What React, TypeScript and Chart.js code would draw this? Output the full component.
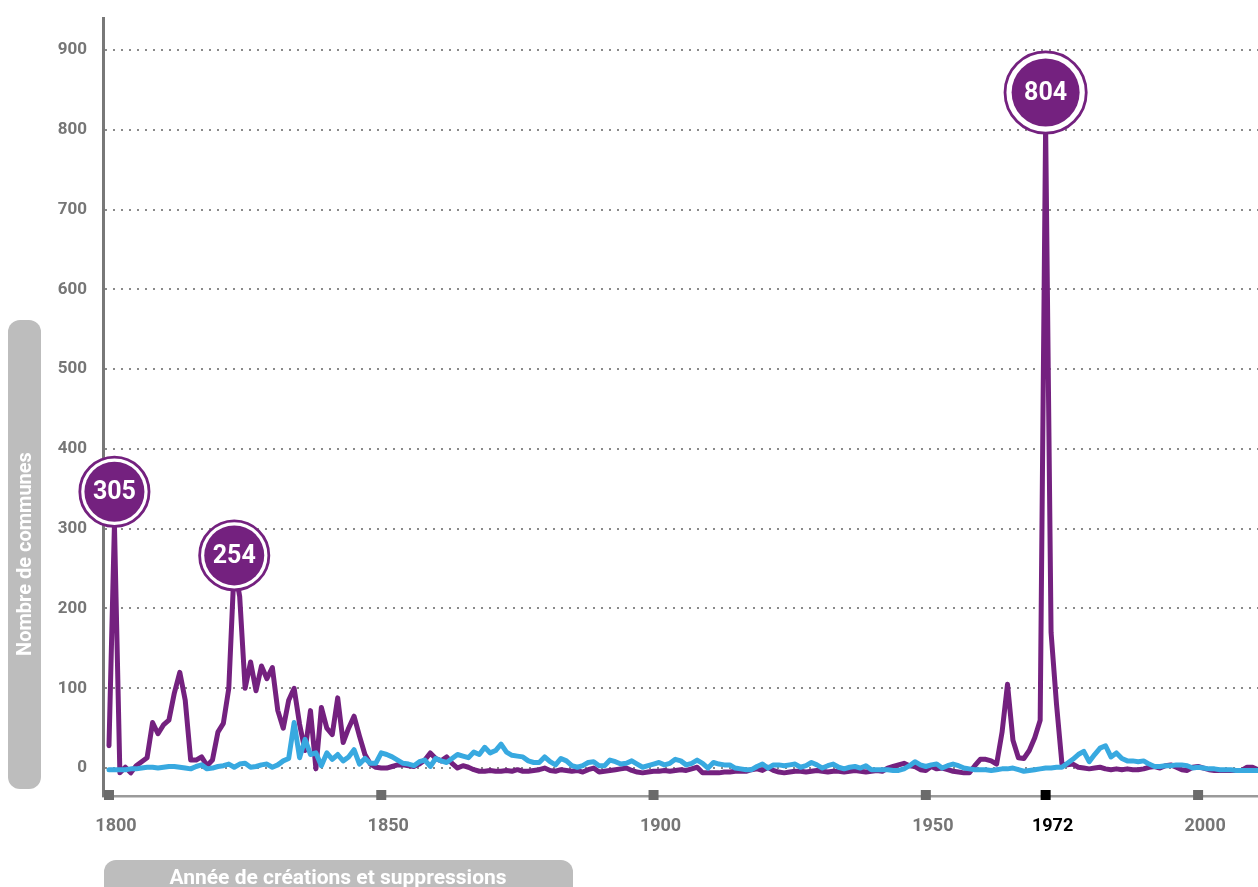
import React, { useEffect, useRef } from 'react';
import { Chart, registerables } from 'chart.js';

Chart.register(...registerables);

// ---- Data ----
const startYear = 1800;

// Purple series, one value per year from 1800 to 2011
const purpleSeries = [
  28, 305, -6, 1, -6, 3, 8, 13, 57, 43,
  54, 60, 94, 120, 85, 10, 10, 14, 3, 10,
  45, 56, 100, 254, 215, 100, 133, 97, 128, 112,
  126, 72, 50, 85, 100, 55, 22, 72, -1, 76,
  50, 42, 88, 32, 50, 65, 40, 17, 5, 1,
  0, 0, 2, 4, 4, 3, 2, 5, 10, 19,
  12, 9, 14, 6, 0, 3, 1, -2, -4, -4,
  -3, -4, -4, -3, -4, -2, -4, -4, -3, -2,
  0, -3, -4, -2, -3, -4, -3, -5, -2, 0,
  -5, -4, -3, -2, -1, 0, -3, -5, -6, -5,
  -4, -4, -3, -4, -3, -2, -3, -1, 1, -6,
  -6, -6, -6, -5, -5, -4, -4, -4, -2, -1,
  -3, 1, -3, -5, -6, -5, -4, -4, -5, -4,
  -3, -4, -5, -4, -4, -5, -4, -3, -4, -5,
  -4, -3, -4, 0, 2, 4, 6, 3, 2, -2,
  -3, 2, -1, 0, -2, -4, -5, -6, -6, 3,
  11, 11, 9, 5, 45, 105, 35, 13, 12, 22,
  38, 60, 804, 170, 80, 5, 4, 5, 1, 0,
  -1, 0, 1, -1, -2, -1, -2, -1, -2, -2,
  -1, 1, 2, 0, 3, 4, 1, -2, -3, 1,
  2, 0, -2, -3, -3, -3, -3, -3, -3, 1,
  1, -2,
];

// Blue series, one value per year from 1800 to 2011
const blueSeries = [
  -2, -2, -2, -2, -1, -1, 0, 1, 1, 0,
  1, 2, 2, 1, 0, -1, 2, 4, -1, 0,
  2, 3, 5, 1, 5, 6, 1, 2, 4, 5,
  1, 4, 9, 12, 57, 13, 36, 17, 19, 3,
  19, 11, 17, 9, 14, 23, 5, 12, 6, 6,
  19, 17, 14, 10, 6, 5, 3, 8, 10, 2,
  12, 9, 7, 12, 17, 15, 13, 20, 17, 26,
  19, 22, 30, 20, 16, 15, 14, 9, 7, 7,
  14, 8, 4, 12, 9, 3, 1, 3, 7, 8,
  3, 3, 10, 8, 5, 6, 9, 5, 1, 3,
  5, 7, 4, 6, 11, 9, 4, 6, 10, 6,
  0, 7, 5, 4, 4, 0, -1, -2, -2, 2,
  5, 0, 4, 4, 3, 4, 5, 1, 3, 7,
  4, 0, 3, 5, 1, -1, 1, 2, 0, 3,
  -2, -2, -2, -2, -3, -3, -1, 3, 8, 4,
  2, 4, 5, 0, 3, 5, 3, 0, -1, -2,
  -2, -2, -3, -2, -1, -1, 0, -2, -4, -3,
  -2, -1, 0, 0, 1, 1, 6, 11, 17, 21,
  8, 17, 25, 28, 14, 19, 12, 9, 9, 8,
  9, 5, 2, 2, 3, 3, 4, 4, 3, 0,
  1, 0, -1, -1, -2, -2, -2, -3, -3, -3,
  -3, -3,
];

const years = purpleSeries.map((_, i) => startYear + i);

const xTickYears = [1800, 1850, 1900, 1950, 1972, 2000];
const highlightYear = 1972;
const yTickValues = [0, 100, 200, 300, 400, 500, 600, 700, 800, 900];

const peakYears = [1801, 1823, 1972];

const yTitle = 'Nombre de communes';
const xTitle = 'Année de créations et suppressions';

// ---- Styles ----
const PURPLE = '#74217f';
const BLUE = '#38a9e0';
const GREY_TEXT = '#767676';
const BOX_GREY = '#bdbdbd';
const FONT = 'Roboto, "DejaVu Sans", sans-serif';

// bubble style per peak: outer radius, lift above the peak point
const bubbleRadius = [36, 36, 42];
const bubbleLift = [33, 10, 34];

function roundRectPath(ctx: CanvasRenderingContext2D, x: number, y: number, w: number, h: number, r: number) {
  ctx.beginPath();
  ctx.moveTo(x + r, y);
  ctx.lineTo(x + w - r, y);
  ctx.arcTo(x + w, y, x + w, y + r, r);
  ctx.lineTo(x + w, y + h - r);
  ctx.arcTo(x + w, y + h, x + w - r, y + h, r);
  ctx.lineTo(x + r, y + h);
  ctx.arcTo(x, y + h, x, y + h - r, r);
  ctx.lineTo(x, y + r);
  ctx.arcTo(x, y, x + r, y, r);
  ctx.closePath();
}

const decorPlugin = {
  id: 'decor',
  beforeDraw(chart: any) {
    const ctx: CanvasRenderingContext2D = chart.ctx;
    ctx.save();
    ctx.fillStyle = BOX_GREY;
    roundRectPath(ctx, 8, 320, 33, 469, 12);
    ctx.fill();
    roundRectPath(ctx, 104, 860, 469, 60, 12);
    ctx.fill();
    ctx.fillStyle = '#ffffff';
    ctx.textAlign = 'center';
    ctx.textBaseline = 'middle';
    ctx.font = `bold 21px ${FONT}`;
    ctx.fillText(xTitle, 338, 879);
    ctx.font = `bold 20px ${FONT}`;
    ctx.translate(26, 554);
    ctx.rotate(-Math.PI / 2);
    ctx.fillText(yTitle, 0, 0);
    ctx.restore();
  },
  afterDraw(chart: any) {
    const ctx: CanvasRenderingContext2D = chart.ctx;
    const xs = chart.scales.x;
    const ys = chart.scales.y;
    const axisY = chart.chartArea.bottom;
    ctx.save();
    // square tick marks on the x axis
    xTickYears.forEach((yr) => {
      const px = xs.getPixelForValue(yr);
      ctx.fillStyle = yr === highlightYear ? '#000000' : '#6b6b6b';
      ctx.fillRect(px - 5, axisY - 6, 10, 10);
    });
    // value bubbles
    peakYears.forEach((yr, i) => {
      const value = purpleSeries[yr - startYear];
      const cx = xs.getPixelForValue(yr);
      const cy = ys.getPixelForValue(value) - bubbleLift[i];
      const R = bubbleRadius[i];
      ctx.beginPath();
      ctx.arc(cx, cy, R - 1.4, 0, Math.PI * 2);
      ctx.fillStyle = '#ffffff';
      ctx.fill();
      ctx.lineWidth = 2.8;
      ctx.strokeStyle = PURPLE;
      ctx.stroke();
      ctx.beginPath();
      ctx.arc(cx, cy, R - (R > 40 ? 8 : 6), 0, Math.PI * 2);
      ctx.fillStyle = PURPLE;
      ctx.fill();
      ctx.fillStyle = '#ffffff';
      ctx.font = `bold 25px ${FONT}`;
      ctx.textAlign = 'center';
      ctx.textBaseline = 'middle';
      ctx.fillText(String(value), cx, cy + 1);
    });
    ctx.restore();
  },
};

export default function App() {
  const canvasRef = useRef<HTMLCanvasElement | null>(null);

  useEffect(() => {
    document.body.style.margin = '0';
    const canvas = canvasRef.current;
    if (!canvas) return;

    const chart = new Chart(canvas, {
      type: 'line',
      data: {
        datasets: [
          {
            label: 'blue',
            data: years.map((yr, i) => ({ x: yr, y: blueSeries[i] })),
            borderColor: BLUE,
            borderWidth: 5,
            pointRadius: 0,
            tension: 0,
            borderJoinStyle: 'round',
            borderCapStyle: 'round',
            fill: false,
          },
          {
            label: 'purple',
            data: years.map((yr, i) => ({ x: yr, y: purpleSeries[i] })),
            borderColor: PURPLE,
            borderWidth: 5,
            pointRadius: 0,
            tension: 0,
            borderJoinStyle: 'round',
            borderCapStyle: 'round',
            fill: false,
          },
        ],
      },
      options: {
        responsive: false,
        animation: false,
        devicePixelRatio: 1,
        layout: { padding: { top: 18, left: 0, right: 0, bottom: 0 }, autoPadding: false },
        plugins: {
          legend: { display: false },
          tooltip: { enabled: false },
          title: { display: false },
        },
        scales: {
          x: {
            type: 'linear',
            min: 1798.9,
            max: 2011,
            afterBuildTicks: (scale: any) => {
              scale.ticks = xTickYears.map((v) => ({ value: v }));
            },
            afterFit: (scale: any) => {
              scale.height = 91;
              scale.paddingLeft = 0;
              scale.paddingRight = 0;
              scale.paddingTop = 0;
              scale.paddingBottom = 0;
            },
            grid: { display: false, drawTicks: false },
            border: { display: true, color: '#9a9a9a', width: 2.5 },
            ticks: {
              autoSkip: false,
              maxRotation: 0,
              padding: 20,
              labelOffset: 7,
              font: { family: FONT, size: 18, weight: 'bold' },
              color: (c: any) => (c.tick && c.tick.value === highlightYear ? '#000000' : GREY_TEXT),
              callback: (v: any) => String(v),
            },
          },
          y: {
            type: 'linear',
            min: -35,
            max: 940,
            afterBuildTicks: (scale: any) => {
              scale.ticks = yTickValues.map((v) => ({ value: v }));
            },
            afterFit: (scale: any) => {
              scale.width = 103;
              scale.paddingLeft = 0;
              scale.paddingRight = 0;
              scale.paddingTop = 0;
              scale.paddingBottom = 0;
            },
            grid: { display: true, drawTicks: false, color: '#8a8a8a', lineWidth: 2 },
            border: { display: true, color: '#787878', width: 3, dash: [2, 6] },
            ticks: {
              padding: 16,
              font: { family: FONT, size: 17, weight: 'bold' },
              color: GREY_TEXT,
              callback: (v: any) => String(v),
            },
          },
        },
      },
      plugins: [decorPlugin],
    } as any);

    return () => {
      chart.destroy();
    };
  }, []);

  return (
    <div style={{ position: 'relative', width: 1258, height: 887, overflow: 'hidden' }}>
      <canvas ref={canvasRef} width={1258} height={887} style={{ width: 1258, height: 887, display: 'block' }} />
    </div>
  );
}
